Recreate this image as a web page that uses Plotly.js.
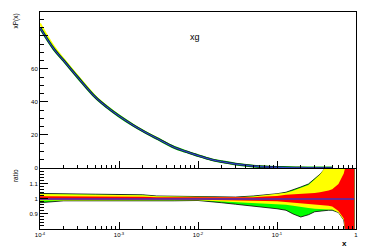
<!DOCTYPE html>
<html><head><meta charset="utf-8">
<script src="https://cdn.plot.ly/plotly-3.0.1.min.js"></script>
<style>html,body{margin:0;padding:0;background:#fff}</style>
</head><body><div id="c" style="width:374px;height:249px"></div>
<script>
// Top panel: xg central curve
const xTop = [1e-4,1.5e-4,2e-4,3e-4,5e-4,7e-4,1e-3,1.5e-3,2e-3,3e-3,5e-3,7e-3,1e-2,1.5e-2,2e-2,3e-2,5e-2,7e-2,0.1,0.15,0.2,0.3,0.4,0.5];
const xg   = [85,72,65,55,43,37,31.5,26,22.5,18,12.5,10,7.5,5,3.8,2.4,1.2,0.7,0.4,0.18,0.1,0.03,0.01,0.003];
const xgUpper = [87.5,73.5,66,55.8,43.5,37.4,31.8,26.2,22.7,18.2,12.6,10.1,7.6,5.05,3.85,2.43,1.22,0.72,0.41,0.19,0.11,0.035,0.013,0.005];

// Ratio panel bands
const xR = [1e-4,2e-4,2.2e-4,5e-4,1e-3,2e-3,3e-3,5e-3,1e-2,2e-2,3e-2,5e-2,7e-2,0.1,0.13,0.16,0.2,0.25,0.3,0.35,0.4,0.45,0.5,0.6,0.7,0.75,0.8,0.9,0.95];
const greenUp  = [1.037,1.037,1.032,1.032,1.030,1.028,1.020,1.018,1.015,1.012,1.013,1.020,1.027,1.035,1.045,1.060,1.080,1.100,1.135,1.165,1.200,1.250,1.300,1.300,1.300,1.300,1.300,1.300,1.300];
const yellowUp = [1.033,1.033,1.028,1.028,1.027,1.025,1.018,1.016,1.013,1.010,1.011,1.017,1.024,1.031,1.041,1.055,1.074,1.094,1.130,1.163,1.205,1.260,1.300,1.300,1.300,1.300,1.300,1.300,1.300];
const redUp    = [1.018,1.018,1.016,1.016,1.015,1.015,1.012,1.012,1.010,1.008,1.008,1.012,1.016,1.020,1.028,1.030,1.032,1.035,1.040,1.045,1.050,1.057,1.065,1.100,1.170,1.250,1.300,1.300,1.300];
const redLo    = [0.995,0.995,0.995,0.995,0.995,0.995,0.995,0.995,0.995,0.993,0.991,0.988,0.986,0.985,0.981,0.975,0.970,0.968,0.965,0.960,0.957,0.955,0.950,0.920,0.870,0.750,0.700,0.700,0.700];
const yellowLo = [0.990,0.992,0.992,0.992,0.992,0.992,0.992,0.992,0.992,0.985,0.980,0.975,0.970,0.965,0.962,0.955,0.945,0.940,0.935,0.932,0.930,0.930,0.930,0.910,0.860,0.750,0.700,0.700,0.700];
const greenLo  = [0.975,0.988,0.988,0.988,0.988,0.988,0.988,0.988,0.990,0.975,0.965,0.955,0.945,0.935,0.925,0.900,0.880,0.895,0.915,0.920,0.923,0.925,0.925,0.910,0.860,0.750,0.700,0.700,0.700];
const centralR = [1,1,1,1,1,1,1,1,1,1,1,1,1,1,1,1,1,1,1,1,1,1,1,1,1,1,1,1,1];

// Ticks
const xTickVals = [1e-4,1e-3,1e-2,1e-1,1];
const xTickText = ["10<sup>-4</sup>","10<sup>-3</sup>","10<sup>-2</sup>","10<sup>-1</sup>","1"];
const yTopVals = [0,20,40,60,80];
const yTopText = ["0","20","40","60"," "];
const yRatVals = [0.9,1,1.1];
const yRatText = ["0.9","1","1.1"];

const minorX = [];
for (let d=-4; d<0; d++) for (let m=2; m<=9; m++) minorX.push(m*Math.pow(10,d));

function poly(up, lo){ return {x: xR.concat(xR.slice().reverse()), y: up.concat(lo.slice().reverse())}; }

const traces = [];
// top panel
traces.push({x:xTop, y:xgUpper, mode:'lines', line:{color:'#ffff00', width:2, shape:'spline'}, xaxis:'x', yaxis:'y', hoverinfo:'skip'});
traces.push({x:xTop, y:xg, mode:'lines', line:{color:'#00b000', width:2.8, shape:'spline'}, xaxis:'x', yaxis:'y', hoverinfo:'skip'});
traces.push({x:xTop, y:xg, mode:'lines', line:{color:'#101040', width:2, shape:'spline'}, xaxis:'x', yaxis:'y', hoverinfo:'skip'});
traces.push({x:xTop, y:xg, mode:'lines', line:{color:'#3050d0', width:1, shape:'spline'}, xaxis:'x', yaxis:'y', hoverinfo:'skip'});
// ratio panel
const g = poly(greenUp, greenLo);
traces.push({x:g.x, y:g.y, fill:'toself', fillcolor:'#00ff00', mode:'lines', line:{color:'#000', width:0.8}, xaxis:'x2', yaxis:'y2', hoverinfo:'skip'});
const yl = poly(yellowUp, yellowLo);
traces.push({x:yl.x, y:yl.y, fill:'toself', fillcolor:'#ffff00', mode:'lines', line:{width:0}, xaxis:'x2', yaxis:'y2', hoverinfo:'skip'});
const r = poly(redUp, redLo);
traces.push({x:r.x, y:r.y, fill:'toself', fillcolor:'#ff0000', mode:'lines', line:{width:0}, xaxis:'x2', yaxis:'y2', hoverinfo:'skip'});
traces.push({x:xR, y:centralR, mode:'lines', line:{color:'#4030c0', width:1.5}, xaxis:'x2', yaxis:'y2', hoverinfo:'skip'});

const tf = {family:'Liberation Sans, Arial, sans-serif', size:6, color:'#000'};
const xCommon = {type:'log', range:[-4,0], showgrid:false, zeroline:false, showline:true, linecolor:'#000', linewidth:1, mirror:true,
  ticks:'inside', ticklen:7, tickcolor:'#000', tickvals:xTickVals, ticktext:xTickText, tickfont:tf,
  minor:{tickmode:'array', tickvals:minorX, ticks:'inside', ticklen:3.5, tickcolor:'#000', showgrid:false}};

const layout = {
  width:374, height:249, margin:{l:40, r:18, t:12, b:20},
  paper_bgcolor:'#fff', plot_bgcolor:'#fff', showlegend:false,
  xaxis: Object.assign({}, xCommon, {anchor:'y', showticklabels:false}),
  xaxis2: Object.assign({}, xCommon, {anchor:'y2', showticklabels:true}),
  yaxis: {domain:[0.2811,1], range:[0,94.5], anchor:'x', showgrid:false, zeroline:false, showline:true, linecolor:'#000', linewidth:1, mirror:true,
    ticks:'inside', ticklen:8, tickcolor:'#000', tickvals:yTopVals, ticktext:yTopText, tickfont:tf,
    minor:{dtick:5, ticks:'inside', ticklen:4, tickcolor:'#000', showgrid:false}},
  yaxis2: {domain:[0,0.2765], range:[0.8,1.2], anchor:'x2', showgrid:false, zeroline:false, showline:true, linecolor:'#000', linewidth:1, mirror:true,
    ticks:'inside', ticklen:8, tickcolor:'#000', tickvals:yRatVals, ticktext:yRatText, tickfont:tf,
    minor:{dtick:0.02, tick0:0.8, ticks:'inside', ticklen:4, tickcolor:'#000', showgrid:false}},
  annotations:[
    {text:'xg', xref:'paper', yref:'paper', x:0.49, y:0.917, showarrow:false, font:{family:'Liberation Sans, Arial, sans-serif', size:9, color:'#000'}},
    {text:'xP(x)', xref:'paper', yref:'paper', x:-0.079, y:1.0, xanchor:'center', yanchor:'top', textangle:-90, showarrow:false, font:{family:'Liberation Sans, Arial, sans-serif', size:6.5, color:'#000'}},
    {text:'ratio', xref:'paper', yref:'paper', x:-0.079, y:0.244, xanchor:'center', yanchor:'middle', textangle:-90, showarrow:false, font:{family:'Liberation Sans, Arial, sans-serif', size:6.5, color:'#000'}},
    {text:'<b>x</b>', xref:'paper', yref:'paper', x:0.965, y:-0.038, xanchor:'center', yanchor:'top', showarrow:false, font:{family:'Liberation Sans, Arial, sans-serif', size:8, color:'#000'}}
  ]
};
Plotly.newPlot('c', traces, layout, {staticPlot:true, displayModeBar:false});
</script></body></html>
